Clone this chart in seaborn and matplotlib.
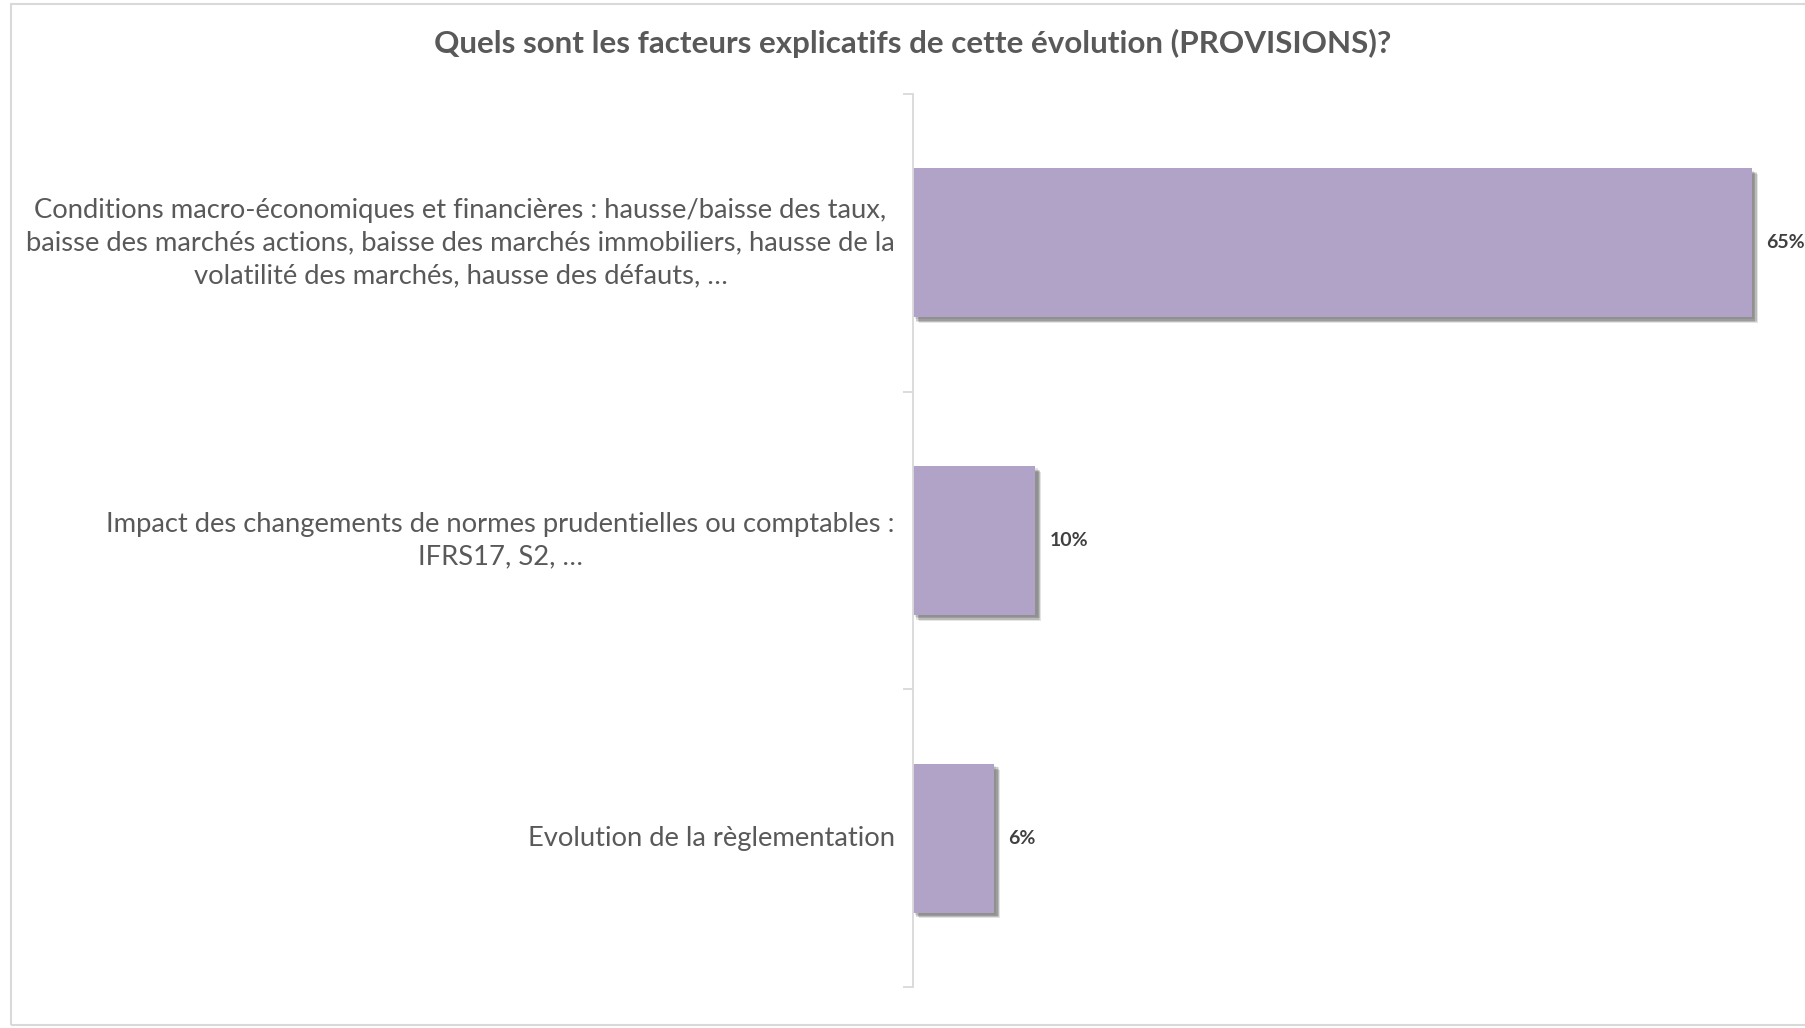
import matplotlib
matplotlib.use("Agg")
import matplotlib.pyplot as plt
import matplotlib.patheffects as pe
from matplotlib.patches import Rectangle
import seaborn as sns
import pandas as pd

# Data
categories = [
    "Conditions macro-économiques et financières : hausse/baisse des taux,\n"
    "baisse des marchés actions, baisse des marchés immobiliers, hausse de la\n"
    "volatilité des marchés, hausse des défauts, …",
    "Impact des changements de normes prudentielles ou comptables :\nIFRS17, S2, …",
    "Evolution de la règlementation",
]
values = [65.1, 9.5, 6.3]
value_labels = ["65%", "10%", "6%"]
title = "Quels sont les facteurs explicatifs de cette évolution (PROVISIONS)?"

df = pd.DataFrame({"categorie": categories, "valeur": values})

sns.set_style("white")
plt.rcParams["font.family"] = ["Lato", "DejaVu Sans"]

fig = plt.figure(figsize=(18.06, 10.28), dpi=100)
ax = fig.add_axes([913 / 1806, 41 / 1028, 1 - 913 / 1806, 893 / 1028])

bar_color = "#B1A2C8"
sns.barplot(data=df, x="valeur", y="categorie", color=bar_color, width=0.5,
            saturation=1, linewidth=0, ax=ax)

# soft drop shadow like the original chart
shadow = [pe.SimplePatchShadow(offset=(dx, -dy), shadow_rgbFace="#505050", alpha=0.15)
          for dx, dy in [(1.5, 1.5), (2.5, 2.5), (3.5, 3.5), (2.5, 3.5), (3.5, 2.5), (4.2, 4.2)]]
for patch in ax.patches:
    patch.set_path_effects(shadow + [pe.Normal()])

ax.bar_label(ax.containers[0], labels=value_labels, padding=10,
             fontsize=14, fontweight="bold", color="#404040")

ax.set_xlim(0, 69.3)
ax.set_ylim(2.5, -0.5)
ax.set_xlabel("")
ax.set_ylabel("")
ax.set_xticks([])

for side in ["top", "right", "bottom"]:
    ax.spines[side].set_visible(False)
ax.spines["left"].set_color("#D9D9D9")
ax.spines["left"].set_linewidth(1.3)

ax.set_yticks([-0.5, 0.5, 1.5, 2.5], minor=True)
ax.tick_params(axis="y", which="minor", length=7, width=1.3, color="#D9D9D9", left=True)
ax.tick_params(axis="y", which="major", length=0, pad=13, labelsize=19.7, labelcolor="#595959")
for lbl in ax.get_yticklabels():
    lbl.set_multialignment("center")
    lbl.set_linespacing(1.38)
    lbl.set_verticalalignment("center")

fig.text(913 / 1806, 1 - 43 / 1028, title, ha="center", va="center",
         fontsize=22.6, fontweight="bold", color="#595959")

# chart frame
fig.patches.append(Rectangle((11 / 1806, 3 / 1028), 1.2, 1 - 7 / 1028,
                             transform=fig.transFigure, fill=False,
                             edgecolor="#D9D9D9", linewidth=1.5))

fig.savefig("out.png", dpi=100)
